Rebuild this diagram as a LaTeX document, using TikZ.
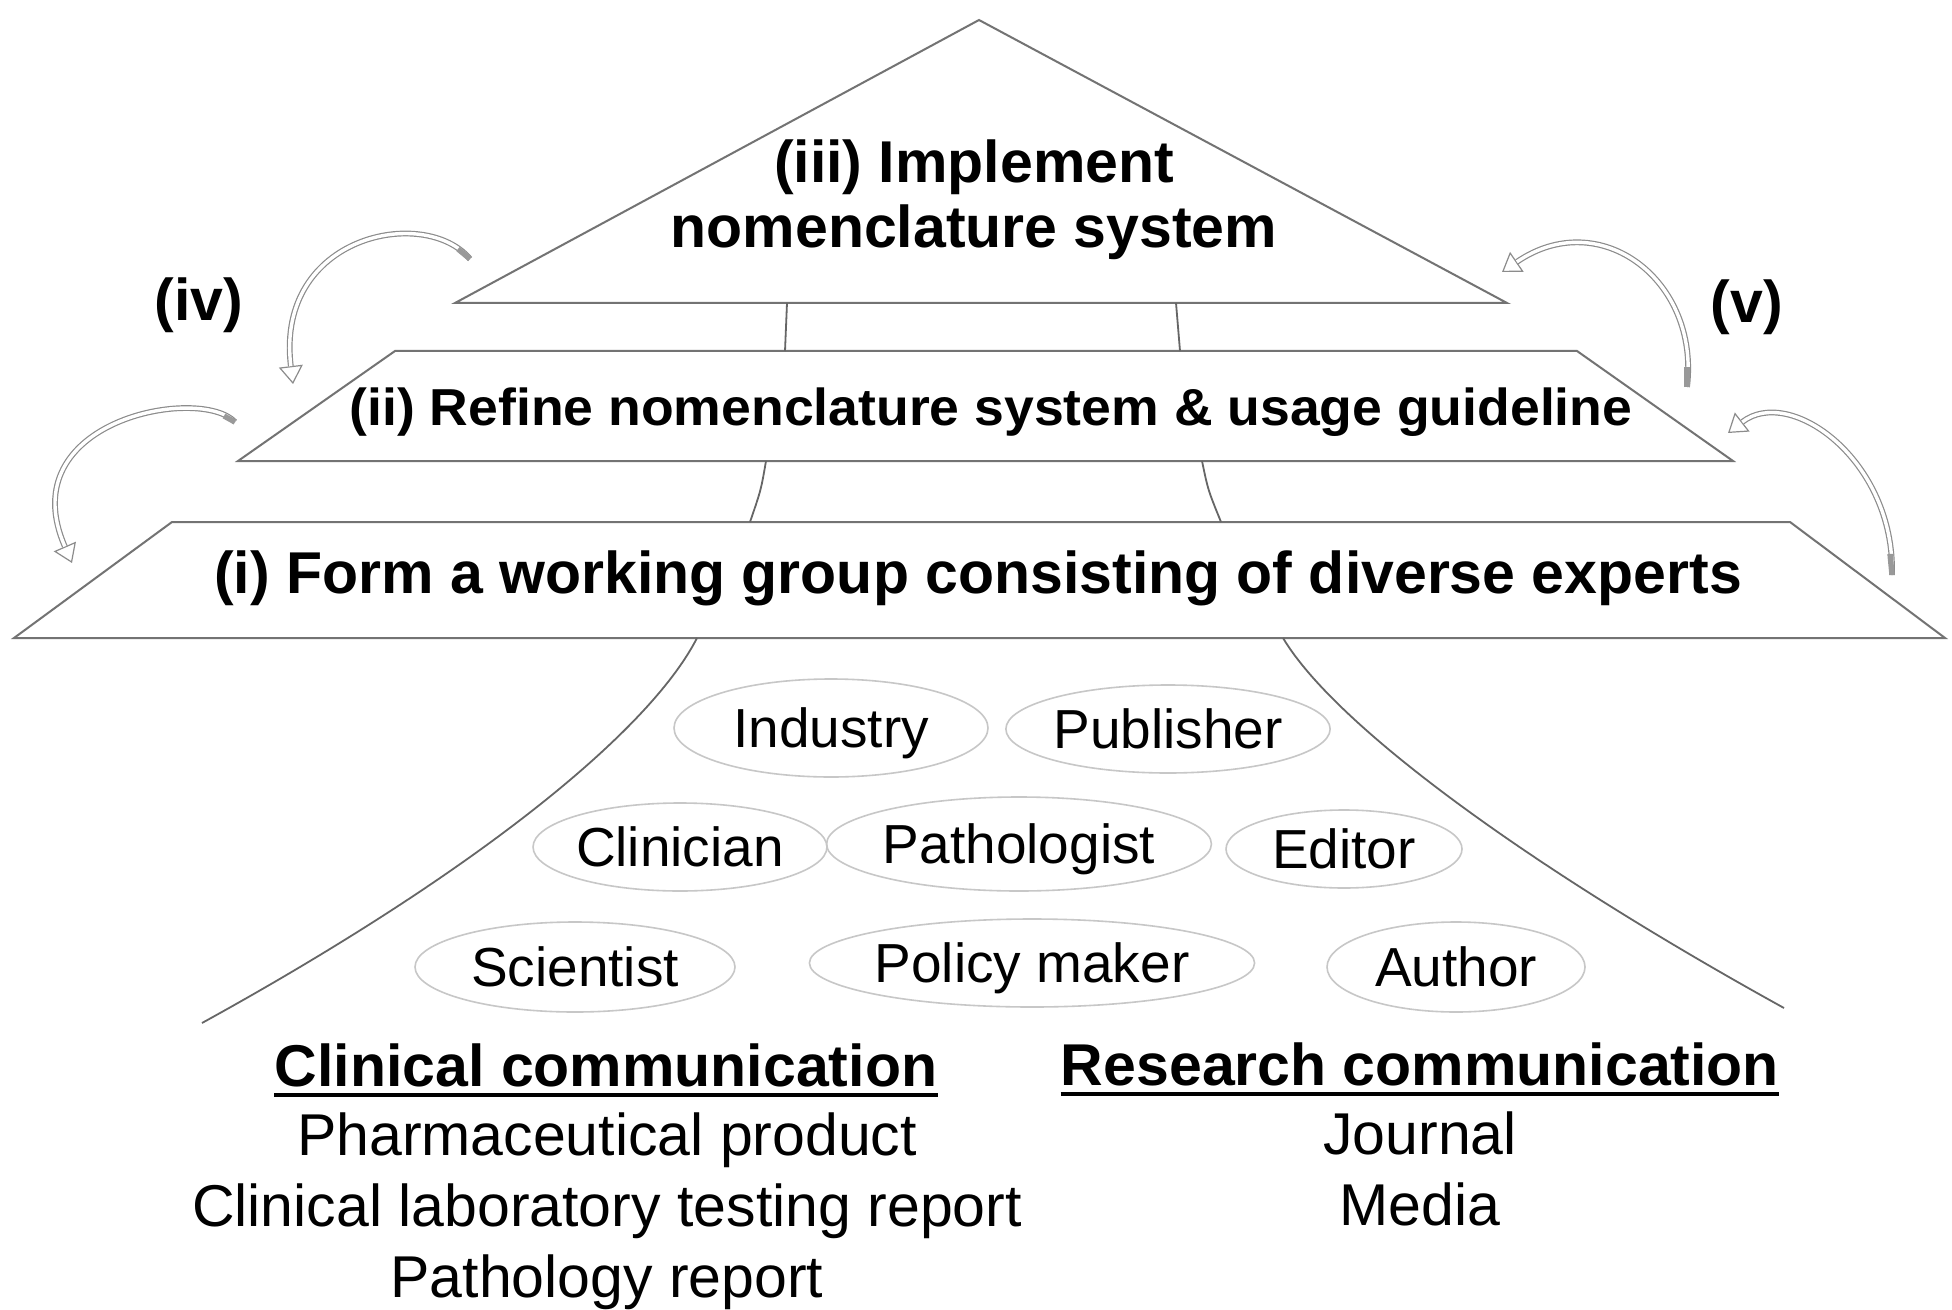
\documentclass[tikz,border=0pt]{standalone}
\usepackage{fontspec}
\setmainfont{Liberation Sans}
\usetikzlibrary{arrows.meta,shapes.geometric}
\begin{document}
\begin{tikzpicture}[x=0.5pt,y=-0.5pt,
  outline/.style={draw=black!55, line width=1pt, line join=miter},
  link/.style={draw=black!60, line width=0.9pt},
  role/.style={ellipse, draw=black!22, line width=0.8pt, inner sep=0pt,
    text height=19.8pt, text depth=0pt, font=\fontsize{27.5}{30}\selectfont},
  layerlbl/.style={anchor=base, inner sep=0pt, font=\bfseries\fontsize{29.5}{32}\selectfont},
  plainlbl/.style={anchor=base, inner sep=0pt, font=\fontsize{29.5}{32}\selectfont},
  headlbl/.style={anchor=base, inner sep=0pt, font=\bfseries\fontsize{29.5}{32}\selectfont},
  cyctip/.style={draw=black!45, line width=0.6pt, -{Triangle[open, fill=white, length=9pt, width=12pt]}},
  cycshaft/.style={draw=black!45, double=white, double distance=1.7pt, line width=0.6pt, shorten >=9pt},
  cyctail/.style={draw=black!40, line width=2.7pt},
]
\fill[white] (0,0) rectangle (1952,1310);
\useasboundingbox (0,0) rectangle (1952,1310);

% ---- layers ----
\coordinate (apex) at (979,20);
\coordinate (tbl) at (455,303);
\coordinate (tbr) at (1507,303);
\draw[outline] (apex) -- (tbr) -- (tbl) -- cycle;

\coordinate (m-tl) at (395,351);
\coordinate (m-tr) at (1577,351);
\coordinate (m-br) at (1733,461);
\coordinate (m-bl) at (238,461);
\draw[outline] (m-tl) -- (m-tr) -- (m-br) -- (m-bl) -- cycle;

\coordinate (b-tl) at (172,522);
\coordinate (b-tr) at (1790,522);
\coordinate (b-br) at (1945,638);
\coordinate (b-bl) at (14,638);
\draw[outline] (b-tl) -- (b-tr) -- (b-br) -- (b-bl) -- cycle;

% ---- connectors between layers ----
\coordinate (c1a) at (787,303); \coordinate (c1b) at (785,351);
\coordinate (c2a) at (1176,303); \coordinate (c2b) at (1180,351);
\coordinate (c3a) at (766,461); \coordinate (c3b) at (750,522);
\coordinate (c4a) at (1202,461); \coordinate (c4b) at (1221,522);
\coordinate (c5a) at (697,638); \coordinate (c5b) at (202,1023);
\coordinate (c6a) at (1283,638); \coordinate (c6b) at (1784,1008);
\draw[link] (c1a) -- (c1b);
\draw[link] (c2a) -- (c2b);
\draw[link] (c3a) .. controls (761,490) .. (c3b);
\draw[link] (c4a) .. controls (1208,490) .. (c4b);
\draw[link] (c5a) .. controls (650,730) and (480,870) .. (c5b);
\draw[link] (c6a) .. controls (1335,725) and (1525,865) .. (c6b);

% ---- layer texts ----
\node[layerlbl] (l3a) at (974,183) {(iii) Implement};
\node[layerlbl] (l3b) at (974,248) {nomenclature system};
\node[layerlbl, font=\bfseries\fontsize{26}{28}\selectfont] (l2) at (991,425)
  {\scalebox{1.03}[1]{(ii) Refine nomenclature system \& usage guideline}};
\node[layerlbl] (l1) at (978,593) {(i) Form a working group consisting of diverse experts};
\node[layerlbl] (l4) at (199,321) {(iv)};
\node[layerlbl] (l5) at (1747,323) {(v)};

% ---- cycle arrows ----
\coordinate (a1s) at (470,259); \coordinate (a1t) at (458,249); \coordinate (a1e) at (293,384);
\coordinate (a2s) at (235,422); \coordinate (a2t) at (224,416); \coordinate (a2e) at (72,563);
\coordinate (a3s) at (1687,387); \coordinate (a3t) at (1687,367); \coordinate (a3e) at (1502,272);
\coordinate (a4s) at (1892,575); \coordinate (a4t) at (1890,554); \coordinate (a4e) at (1728,433);

\draw[cyctip] (a1s) .. controls (425,205) and (275,235) .. (a1e);
\draw[cycshaft] (a1s) .. controls (425,205) and (275,235) .. (a1e);
\draw[cyctail] (a1s) -- (a1t);
\draw[cyctip] (a2s) .. controls (200,385) and (10,420) .. (a2e);
\draw[cycshaft] (a2s) .. controls (200,385) and (10,420) .. (a2e);
\draw[cyctail] (a2s) -- (a2t);
\draw[cyctip] (a3s) .. controls (1700,280) and (1600,205) .. (a3e);
\draw[cycshaft] (a3s) .. controls (1700,280) and (1600,205) .. (a3e);
\draw[cyctail] (a3s) -- (a3t);
\draw[cyctip] (a4s) .. controls (1895,460) and (1790,385) .. (a4e);
\draw[cycshaft] (a4s) .. controls (1895,460) and (1790,385) .. (a4e);
\draw[cyctail] (a4s) -- (a4t);

% ---- roles ----
\node[role, minimum width=157pt, minimum height=49pt] (ind) at (831,728) {Industry};
\node[role, minimum width=160pt, minimum height=44pt] (pub) at (1168,729) {Publisher};
\node[role, minimum width=142pt, minimum height=44pt] (cli) at (680,847) {Clinician};
\node[role, minimum width=168pt, minimum height=47pt] (pat) at (1019,844) {Pathologist};
\node[role, minimum width=118pt, minimum height=39pt] (edi) at (1344,849) {Editor};
\node[role, minimum width=160pt, minimum height=45pt] (sci) at (575,967) {Scientist};
\node[role, minimum width=220pt, minimum height=44pt] (pol) at (1032,963) {Policy maker};
\node[role, minimum width=129pt, minimum height=45pt] (aut) at (1456,967) {Author};

% ---- communication lists ----
\node[headlbl] (clh) at (606,1086) {Clinical communication};
\draw[line width=2pt] ([yshift=-4.5pt]clh.base west) -- ([yshift=-4.5pt]clh.base east);
\node[plainlbl] (cl1) at (607,1155) {Pharmaceutical product};
\node[plainlbl] (cl2) at (607,1226) {Clinical laboratory testing report};
\node[plainlbl] (cl3) at (607,1297) {Pathology report};

\node[headlbl] (rsh) at (1420,1085) {Research communication};
\draw[line width=2pt] ([yshift=-4.5pt]rsh.base west) -- ([yshift=-4.5pt]rsh.base east);
\node[plainlbl] (rs1) at (1420,1154) {Journal};
\node[plainlbl] (rs2) at (1420,1225) {Media};
\end{tikzpicture}
\end{document}
